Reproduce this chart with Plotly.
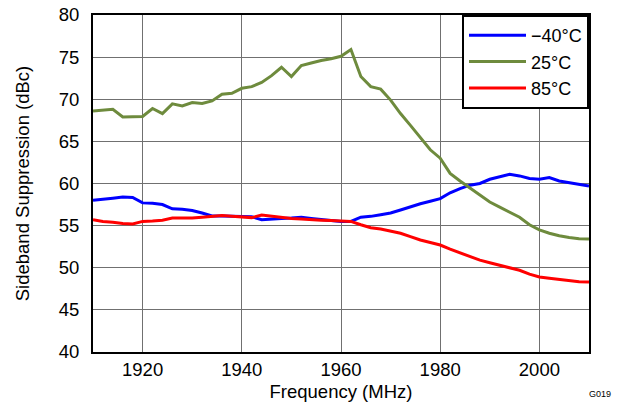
import plotly.graph_objects as go

freq = [1910, 1912, 1914, 1916, 1918, 1920, 1922, 1924, 1926, 1928,
        1930, 1932, 1934, 1936, 1938, 1940, 1942, 1944, 1946, 1948,
        1950, 1952, 1954, 1956, 1958, 1960, 1962, 1964, 1966, 1968,
        1970, 1972, 1974, 1976, 1978, 1980, 1982, 1984, 1986, 1988,
        1990, 1992, 1994, 1996, 1998, 2000, 2002, 2004, 2006, 2008, 2010]

sbs_m40 = [58.0, 58.1, 58.25, 58.4, 58.35, 57.7, 57.65, 57.5, 57.0, 56.95,
           56.8, 56.5, 56.15, 56.15, 56.1, 56.1, 56.05, 55.7, 55.8, 55.85,
           55.9, 56.0, 55.85, 55.7, 55.6, 55.5, 55.5, 56.0, 56.1, 56.3,
           56.5, 56.85, 57.25, 57.6, 57.9, 58.2, 58.9, 59.4, 59.8, 60.0,
           60.5, 60.8, 61.1, 60.9, 60.6, 60.5, 60.7, 60.3, 60.1, 59.9, 59.7]

sbs_25 = [68.6, 68.7, 68.8, 67.9, 67.95, 67.95, 68.9, 68.3, 69.45, 69.2,
          69.6, 69.5, 69.8, 70.6, 70.7, 71.3, 71.5, 72.0, 72.8, 73.8,
          72.7, 74.0, 74.3, 74.6, 74.8, 75.1, 75.9, 72.7, 71.5, 71.2,
          69.9, 68.3, 66.9, 65.5, 64.0, 63.0, 61.2, 60.3, 59.5, 58.7,
          57.8, 57.2, 56.6, 56.0, 55.1, 54.5, 54.1, 53.8, 53.6, 53.45, 53.4]

sbs_85 = [55.7, 55.5, 55.4, 55.25, 55.2, 55.5, 55.55, 55.65, 55.9, 55.9,
          55.9, 56.0, 56.1, 56.2, 56.1, 56.0, 55.95, 56.25, 56.1, 55.95,
          55.85, 55.8, 55.7, 55.65, 55.6, 55.55, 55.5, 55.1, 54.75, 54.6,
          54.35, 54.1, 53.7, 53.3, 53.0, 52.7, 52.2, 51.75, 51.3, 50.9,
          50.6, 50.3, 50.0, 49.7, 49.25, 48.9, 48.75, 48.6, 48.45, 48.35, 48.3]

font = "Liberation Sans"

fig = go.Figure()
fig.add_trace(go.Scatter(x=freq, y=sbs_m40, name="\u221240\u00b0C", mode="lines",
                         line=dict(color="#0000FF", width=3)))
fig.add_trace(go.Scatter(x=freq, y=sbs_25, name="25\u00b0C", mode="lines",
                         line=dict(color="#6E8B3D", width=3)))
fig.add_trace(go.Scatter(x=freq, y=sbs_85, name="85\u00b0C", mode="lines",
                         line=dict(color="#FF0000", width=3)))

fig.update_xaxes(range=[1910, 2010], tick0=1900, dtick=20, showgrid=True,
                 gridcolor="#707070", gridwidth=1, showline=True, linecolor="black",
                 linewidth=2, mirror=True, ticks="", zeroline=False, automargin=False,
                 ticklabeloverflow="allow",
                 tickfont=dict(family=font, size=18.5, color="black"),
                 title=dict(text="Frequency (MHz)", font=dict(family=font, size=18.5, color="black"),
                            standoff=6))
fig.update_yaxes(range=[40, 80], dtick=5, showgrid=True,
                 gridcolor="#707070", gridwidth=1, showline=True, linecolor="black",
                 linewidth=2, mirror=True, ticks="", zeroline=False, automargin=False,
                 ticklabeloverflow="allow",
                 tickfont=dict(family=font, size=18.5, color="black"), ticklabelstandoff=8,
                 title=dict(text="Sideband Suppression (dBc)", font=dict(family=font, size=18.5, color="black"),
                            standoff=24))

fig.add_annotation(text="G019", xref="paper", yref="paper", x=0.996, y=-0.146,
                   xanchor="left", yanchor="bottom", showarrow=False,
                   font=dict(family=font, size=9, color="black"))

fig.update_layout(
    width=621, height=402,
    margin=dict(l=93, r=32, t=15, b=50),
    paper_bgcolor="white", plot_bgcolor="white",
    font=dict(family=font, color="black"),
    showlegend=True,
    legend=dict(x=1, y=1, xanchor="right", yanchor="top",
                bgcolor="white", bordercolor="black", borderwidth=2,
                font=dict(family=font, size=18, color="black"), itemwidth=57,
                tracegroupgap=0),
)

# drop the default 8px body margin so the figure fills the window
fig.write_html("out.html", config={"displayModeBar": False},
               post_script="document.body.style.margin='0';")
